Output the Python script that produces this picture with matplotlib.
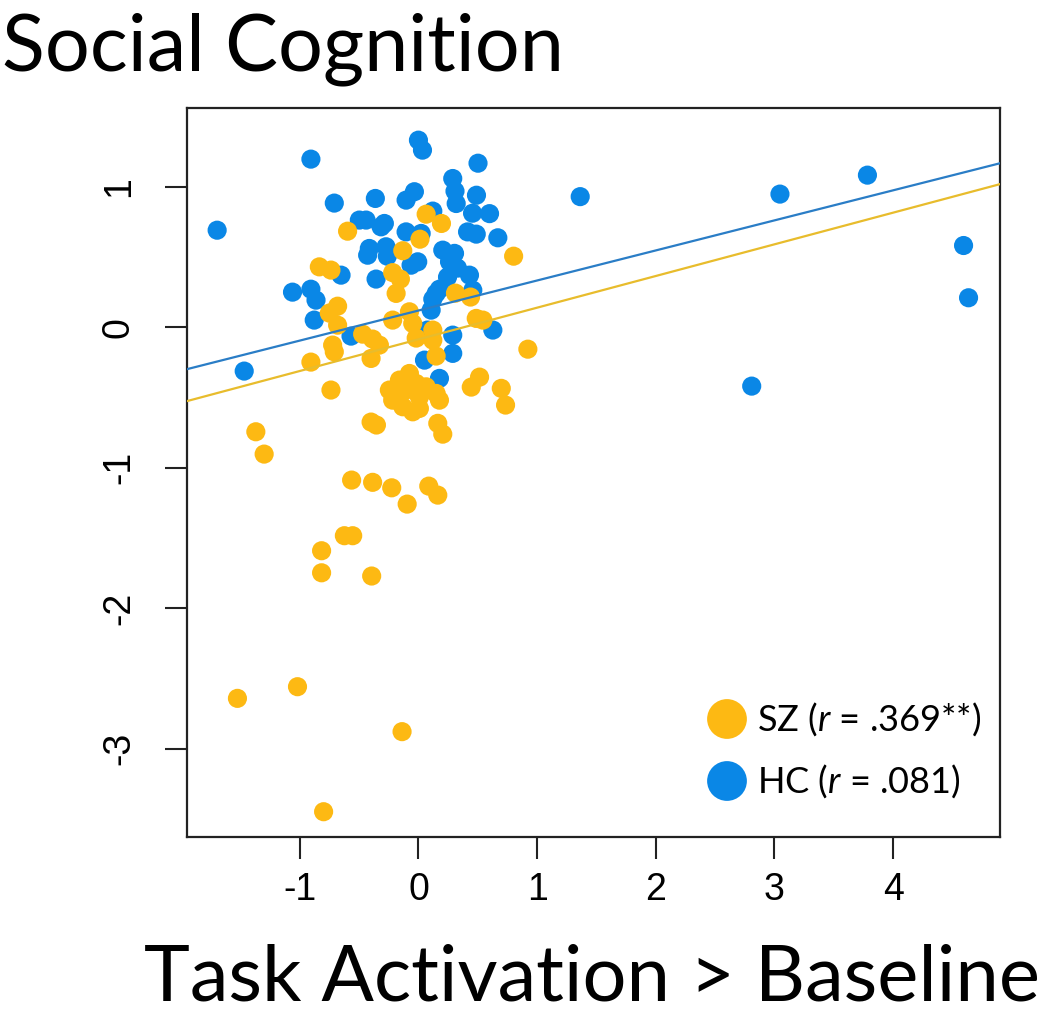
import matplotlib
matplotlib.use("Agg")
import matplotlib.pyplot as plt
import numpy as np

# ---- data ----
hc_x = [-1.696, -1.468, -0.906, 0.000, 0.034, 0.502, 0.289, 0.308, 0.318, 0.489,
        0.456, 0.599, 0.414, 0.487, 0.669, 1.363, -0.709, -0.363, -0.104, -0.034,
        -0.498, -0.441, -0.287, -0.315, 0.121, -0.104, 0.023, -0.414, -0.428, -0.273,
        -0.262, -0.006, -0.062, 0.205, 0.304, 0.262, 0.329, -0.652, -0.357, -1.061,
        -0.906, -0.863, -0.878, 0.177, 0.149, 0.121, 0.107, 0.430, 0.458, 0.627,
        -0.568, 0.289, 0.289, 0.051, 0.177, 3.046, 3.783, 4.593, 4.635, 2.808,
        0.076, -0.019, 0.245]
hc_y = [0.690, -0.313, 1.196, 1.331, 1.260, 1.167, 1.058, 0.968, 0.880, 0.939,
        0.811, 0.808, 0.678, 0.662, 0.636, 0.929, 0.883, 0.916, 0.904, 0.964,
        0.762, 0.762, 0.738, 0.714, 0.826, 0.678, 0.667, 0.560, 0.512, 0.572,
        0.505, 0.465, 0.441, 0.548, 0.525, 0.465, 0.420, 0.370, 0.342, 0.249,
        0.270, 0.192, 0.050, 0.270, 0.240, 0.199, 0.121, 0.370, 0.263, -0.021,
        -0.064, -0.057, -0.187, -0.235, -0.365, 0.947, 1.082, 0.581, 0.209, -0.420,
        -0.021, -0.425, 0.356]

sz_x = [0.065, 0.194, -0.597, 0.013, -0.132, 0.802, -0.835, -0.737, -0.217, -0.152,
        -0.188, -0.681, -0.751, -0.681, -0.723, -0.709, -0.470, -0.386, -0.329, -0.399,
        -0.906, -0.217, -0.076, -0.048, -0.019, 0.121, 0.149, 0.312, 0.439, 0.487,
        0.543, 0.922, -0.737, -0.245, -0.160, -0.217, -0.104, -0.132, -0.048, 0.008,
        -0.076, -0.019, 0.065, 0.149, 0.177, -0.399, -0.354, 0.163, 0.205, 0.515,
        0.445, 0.698, 0.734, -1.370, -1.300, -0.563, -0.386, -0.225, -0.095, 0.087,
        0.163, -0.624, -0.554, -0.816, -0.816, -0.394, -1.525, -1.019, -0.138, -0.799,
        0.121, 0.008]
sz_y = [0.804, 0.738, 0.683, 0.626, 0.544, 0.505, 0.429, 0.406, 0.388, 0.342,
        0.240, 0.149, 0.100, 0.014, -0.128, -0.176, -0.050, -0.085, -0.128, -0.223,
        -0.249, 0.050, 0.109, 0.026, -0.078, -0.093, -0.206, 0.242, 0.214, 0.062,
        0.050, -0.157, -0.448, -0.448, -0.377, -0.520, -0.448, -0.567, -0.603, -0.498,
        -0.330, -0.401, -0.425, -0.472, -0.520, -0.676, -0.697, -0.685, -0.762, -0.356,
        -0.427, -0.436, -0.555, -0.745, -0.904, -1.089, -1.105, -1.144, -1.260, -1.132,
        -1.196, -1.485, -1.485, -1.592, -1.749, -1.772, -2.643, -2.560, -2.880, -3.450,
        -0.021, -0.579]

# regression lines (intercept, slope)
hc_fit = (0.118, 0.214)
sz_fit = (-0.087, 0.2255)

x_ticks = [-1, 0, 1, 2, 3, 4]
y_ticks = [-3, -2, -1, 0, 1]
legend_labels = ["SZ ($\\it{r}$ = .369**)", "HC ($\\it{r}$ = .081)"]
title_text = "Social Cognition"
xlabel_text = "Task Activation > Baseline"

# ---- style ----
SZ_COLOR = "#FDB913"
HC_COLOR = "#0A87E6"
SZ_LINE = "#E8BC2C"
HC_LINE = "#2A7DC6"
LABEL_FONT = "Lato"

plt.rcParams["mathtext.fontset"] = "custom"
plt.rcParams["mathtext.rm"] = LABEL_FONT
plt.rcParams["mathtext.it"] = LABEL_FONT + ":italic"

W, H = 1050, 1013
fig = plt.figure(figsize=(W / 100, H / 100), dpi=100)
ax = fig.add_axes([187 / W, 1 - 837 / H, (1000 - 187) / W, (837 - 108) / H])

xlim = (-1.95, 4.90)
ylim = (-3.63, 1.56)
ax.set_xlim(*xlim)
ax.set_ylim(*ylim)

ax.scatter(hc_x, hc_y, s=190, color=HC_COLOR, edgecolors="none", zorder=2)
ax.scatter(sz_x, sz_y, s=190, color=SZ_COLOR, edgecolors="none", zorder=3)

xx = np.array(xlim)
ax.plot(xx, hc_fit[0] + hc_fit[1] * xx, color=HC_LINE, lw=1.6, zorder=4)
ax.plot(xx, sz_fit[0] + sz_fit[1] * xx, color=SZ_LINE, lw=1.6, zorder=4)

for sp in ax.spines.values():
    sp.set_linewidth(1.6)
    sp.set_color("#222222")

ax.set_xticks(x_ticks)
ax.set_yticks(y_ticks)
ax.set_xticklabels([str(v) for v in x_ticks], family="Liberation Sans", fontsize=27)
ax.set_yticklabels([str(v) for v in y_ticks], family="Liberation Sans", fontsize=27,
                   rotation=90, va="center")
ax.tick_params(axis="both", length=16, width=1.5, color="#222222")
ax.tick_params(axis="x", pad=9)
ax.tick_params(axis="y", pad=20)

# legend drawn in axes coords
leg_x = (727 - 187) / (1000 - 187)
for i, (lab, col) in enumerate(zip(legend_labels, [SZ_COLOR, HC_COLOR])):
    ypix = [719, 781][i]
    ya = (837 - ypix) / (837 - 108)
    ax.scatter([leg_x], [ya], s=820, color=col, edgecolors="none",
               transform=ax.transAxes, clip_on=False, zorder=5)
    ax.text((757 - 187) / (1000 - 187), ya, lab, transform=ax.transAxes,
            fontsize=26, family=LABEL_FONT, va="center", ha="left", zorder=5)

fig.text(2 / W, 1 - 70 / H, title_text, fontsize=57, family=LABEL_FONT,
         ha="left", va="baseline")
fig.text(1040 / W, 1 - 1000 / H, xlabel_text, fontsize=56, family=LABEL_FONT,
         ha="right", va="baseline")

fig.savefig("out.png", dpi=100)
